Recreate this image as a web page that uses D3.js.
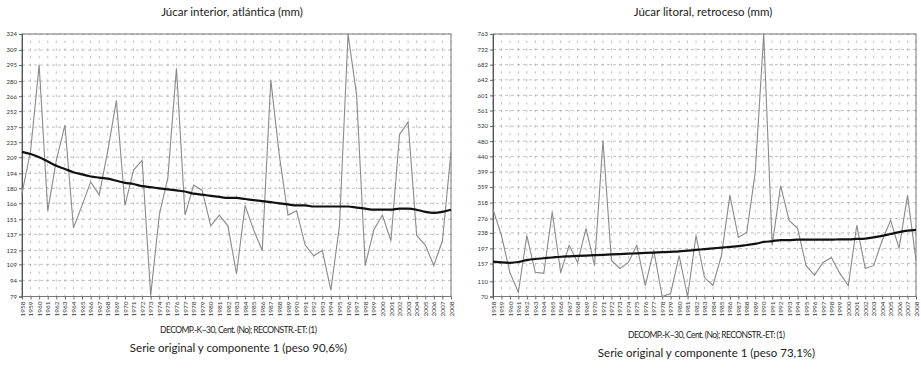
<!DOCTYPE html>
<html><head><meta charset="utf-8">
<script src="https://cdn.jsdelivr.net/npm/d3@7"></script>
<style>body{margin:0;background:#fff} text{font-family:"Lato","Open Sans",sans-serif;fill:#222}</style>
</head><body><svg id="c" width="921" height="370"></svg>
<script>
const years = [1958,1959,1960,1961,1962,1963,1964,1965,1966,1967,1968,1969,1970,1971,1972,1973,1974,1975,1976,1977,1978,1979,1980,1981,1982,1983,1984,1985,1986,1987,1988,1989,1990,1991,1992,1993,1994,1995,1996,1997,1998,1999,2000,2001,2002,2003,2004,2005,2006,2007,2008];

const interiorTicks = [79,94,109,122,137,151,166,180,194,209,223,237,252,266,280,295,309,324];
const interiorSerie = [175,215,295,159,206,239,143,164,186,174,215,262,164,197,206,80,155,190,292,155,183,178,145,155,145,100,164,141,122,281,210,155,159,127,117,122,85,145,324,267,108,141,155,131,230,242,136,127,108,131,214];
const interiorComp = [214,212,209,205,201,198,195,193,191,190,189,187,185,184,182,181,180,179,178,177,175,174,173,172,171,171,170,169,168,167,166,165,164,164,163,163,163,163,163,162,161,160,160,160,161,161,160,158,157,158,160];

const litoralTicks = [70,110,157,197,238,276,318,359,399,440,480,520,561,601,642,682,722,763];
const litoralSerie = [300,231,133,81,231,134,131,293,133,205,160,250,152,482,165,144,160,205,99,192,70,78,178,70,231,120,99,178,337,226,240,398,763,205,363,271,250,152,126,160,173,131,99,258,144,152,218,271,197,337,165];
const litoralComp = [162,160,159,161,166,169,171,173,175,176,177,178,179,180,181,182,183,184,185,186,187,188,189,191,193,195,197,199,201,203,206,209,214,216,219,219,220,220,220,220,220,221,221,222,223,226,230,235,240,244,246];

const panels = [
  {title:"Júcar interior, atlántica (mm)", sub:"DECOMP.-K\u201330, Cent. (No); RECONSTR.-ET: (1)", cap:"Serie original y componente 1 (peso 90,6%)",
   ticks:interiorTicks, serie:interiorSerie, comp:interiorComp, x0:22, x1:451, tx:232, sy:333, cy:352},
  {title:"Júcar litoral, retroceso (mm)", sub:"DECOMP.-K\u201330, Cent. (No); RECONSTR.-ET: (1)", cap:"Serie original y componente 1 (peso 73,1%)",
   ticks:litoralTicks, serie:litoralSerie, comp:litoralComp, x0:493, x1:916, tx:703, sy:338, cy:357}
];

const svg = d3.select("#c");
const y0 = 34, y1 = 296.5;

panels.forEach(p => {
  const g = svg.append("g");
  const x = d3.scalePoint().domain(years).range([p.x0, p.x1]);
  const y = d3.scaleLinear().domain([p.ticks[0], p.ticks[p.ticks.length-1]]).range([y1, y0]);

  // vertical grid
  g.append("g").selectAll("line").data(years).join("line")
    .attr("x1", d=>x(d)).attr("x2", d=>x(d)).attr("y1", y0).attr("y2", y1)
    .attr("stroke", "#a8a8a8").attr("stroke-width", 0.7)
    .attr("stroke-dasharray", "2.5,5.2").attr("stroke-dashoffset", 1.2);
  // horizontal major grid
  g.append("g").selectAll("line").data(p.ticks).join("line")
    .attr("x1", p.x0).attr("x2", p.x1).attr("y1", d=>y(d)).attr("y2", d=>y(d))
    .attr("stroke", "#a8a8a8").attr("stroke-width", 0.7)
    .attr("stroke-dasharray", "3,3");

  // frame
  g.append("rect").attr("x", p.x0).attr("y", y0).attr("width", p.x1-p.x0).attr("height", y1-y0)
    .attr("fill", "none").attr("stroke", "#7a7a7a").attr("stroke-width", 1);

  // axes
  const ya = g.append("g").attr("transform", `translate(${p.x0},0)`)
    .call(d3.axisLeft(y).tickValues(p.ticks).tickSize(3).tickPadding(2).tickFormat(d3.format("d")));
  ya.select(".domain").attr("stroke", "#555");
  ya.selectAll(".tick line").attr("stroke", "#666");
  ya.selectAll("text").attr("font-size", 6).style("fill", "#333");

  const xa = g.append("g").attr("transform", `translate(0,${y1})`)
    .call(d3.axisBottom(x).tickSize(3).tickPadding(2));
  xa.select(".domain").remove();
  xa.selectAll(".tick line").attr("stroke", "#666");
  xa.selectAll("text").attr("font-size", 6.5).style("fill", "#333")
    .attr("text-anchor", "end").attr("dy", "0.32em").attr("dx", 0)
    .attr("transform", "translate(0,5) rotate(-90)").attr("y", 0).attr("x", 0);

  // lines
  const line = d3.line().x((d,i)=>x(years[i])).y(d=>y(d));
  g.append("path").datum(p.serie).attr("d", line).attr("fill", "none")
    .attr("stroke", "#8a8a8a").attr("stroke-width", 1.1);
  g.append("path").datum(p.comp).attr("d", line.curve(d3.curveMonotoneX)).attr("fill", "none")
    .attr("stroke", "#111").attr("stroke-width", 2.2);

  // texts
  svg.append("text").attr("x", p.tx).attr("y", 16).attr("text-anchor", "middle")
    .attr("font-size", 11.5).text(p.title);
  svg.append("text").attr("x", (p.x0+p.x1)/2 + 2).attr("y", p.sy).attr("text-anchor", "middle")
    .attr("font-size", 8.5).attr("textLength", 157).text(p.sub);
  svg.append("text").attr("x", (p.x0+p.x1)/2 + 2).attr("y", p.cy).attr("text-anchor", "middle")
    .attr("font-size", 11.5).text(p.cap);
});
</script></body></html>
